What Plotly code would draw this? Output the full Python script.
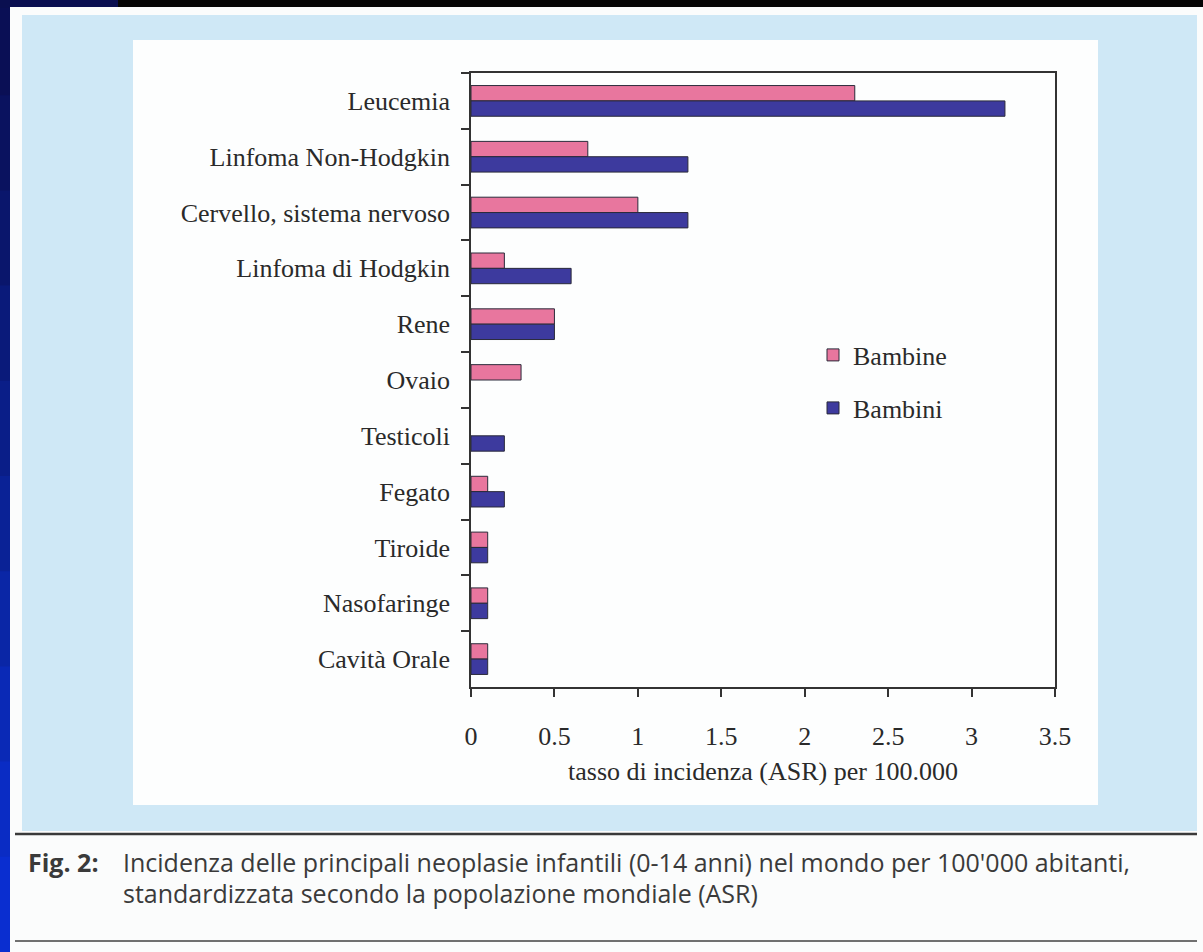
import plotly.graph_objects as go

# Tumour sites, top to bottom
categories = [
    "Leucemia",
    "Linfoma Non-Hodgkin",
    "Cervello, sistema nervoso",
    "Linfoma di Hodgkin",
    "Rene",
    "Ovaio",
    "Testicoli",
    "Fegato",
    "Tiroide",
    "Nasofaringe",
    "Cavità Orale",
]
# ASR per 100.000
bambine = [2.3, 0.7, 1.0, 0.2, 0.5, 0.3, None, 0.1, 0.1, 0.1, 0.1]
bambini = [3.2, 1.3, 1.3, 0.6, 0.5, None, 0.2, 0.2, 0.1, 0.1, 0.1]
x_ticks = [0, 0.5, 1, 1.5, 2, 2.5, 3, 3.5]

W, H = 1203, 952
L, R, T, B = 471, 1055, 73, 687


def px(x):
    return (x - L) / (R - L)


def py(y):
    return (B - y) / (B - T)


SERIF = "Liberation Serif"
SANS = "Open Sans"
INK = "#2a2a2a"
CAPTION = "#3a3a3a"
FS = 26

fig = go.Figure()
fig.add_trace(go.Bar(
    y=categories, x=bambine, orientation="h", name="Bambine",
    marker=dict(color="#e8769e", line=dict(color="#2a2a3a", width=1)),
    legend="legend", showlegend=True,
))
fig.add_trace(go.Bar(
    y=categories, x=bambini, orientation="h", name="Bambini",
    marker=dict(color="#3d3a9e", line=dict(color="#2a2a3a", width=1)),
    legend="legend2", showlegend=True,
))

shapes = []


def rect(x0, y0, x1, y1, color):
    shapes.append(dict(type="rect", xref="paper", yref="paper", layer="below",
                       x0=px(x0), x1=px(x1), y0=py(y1), y1=py(y0),
                       fillcolor=color, line=dict(width=0)))


def hline(x0, x1, y, color, width):
    shapes.append(dict(type="line", xref="paper", yref="paper", layer="below",
                       x0=px(x0), x1=px(x1), y0=py(y), y1=py(y),
                       line=dict(color=color, width=width)))


# slide frame: dark gradient down the left edge, black band on top
bands = ["#0a0f55", "#0a125f", "#0a166c", "#0a1a7a", "#0a1e88", "#0a2296",
         "#0a26a6", "#0a29b6", "#0a2cc4", "#0a2ed0"]
step = H / len(bands)
for i, c in enumerate(bands):
    rect(0, i * step, 12, (i + 1) * step + 1, c)
rect(0, 0, 118, 8, "#0a0f50")
rect(118, 0, W, 8, "#050505")
# printed page
rect(10, 7, W, H, "#fbfcfc")
rect(22, 15, 1197, 831, "#cfe8f6")
rect(133, 40, 1098, 805, "#fdfefe")
hline(15, 1197, 834, "#3a3a3a", 2.5)
hline(15, 1197, 941, "#707070", 2)

cap_font = dict(family=SANS, size=25, color=CAPTION)
annotations = [
    dict(text="<b>Fig. 2:</b>", x=px(26), y=py(862), xref="paper", yref="paper",
         xanchor="left", yanchor="middle", showarrow=False, font=cap_font),
    dict(text="Incidenza delle principali neoplasie infantili (0-14 anni) nel mondo per 100'000 abitanti,",
         x=px(121), y=py(862), xref="paper", yref="paper",
         xanchor="left", yanchor="middle", showarrow=False, font=cap_font),
    dict(text="standardizzata secondo la popolazione mondiale (ASR)",
         x=px(121), y=py(893), xref="paper", yref="paper",
         xanchor="left", yanchor="middle", showarrow=False, font=cap_font),
]

legend_style = dict(xanchor="left", yanchor="middle", bgcolor="rgba(0,0,0,0)",
                    font=dict(family=SERIF, size=FS, color=INK), itemwidth=30)

fig.update_layout(
    width=W, height=H,
    margin=dict(l=L, r=W - R, t=T, b=H - B, pad=0),
    paper_bgcolor="#0a1466",
    plot_bgcolor="rgba(0,0,0,0)",
    showlegend=True,
    barmode="group",
    bargap=0.45,
    bargroupgap=0,
    shapes=shapes,
    annotations=annotations,
    font=dict(family=SERIF, size=FS, color=INK),
    xaxis=dict(
        range=[0, 3.5], tickvals=x_ticks, ticks="outside", ticklen=8,
        tickcolor="#333", tickwidth=1.5, showline=True, linecolor="#333",
        linewidth=1.5, mirror=True, showgrid=False, zeroline=False,
        ticklabelstandoff=17,
        tickfont=dict(family=SERIF, size=FS, color=INK),
        title=dict(text="tasso di incidenza (ASR) per 100.000", standoff=12,
                   font=dict(family=SERIF, size=FS, color=INK)),
    ),
    yaxis=dict(
        type="category", categoryorder="array", categoryarray=categories,
        autorange="reversed", tickson="boundaries", ticks="outside",
        ticklen=8, tickcolor="#333", tickwidth=1.5, showline=True,
        linecolor="#333", linewidth=1.5, mirror=True, showgrid=False,
        ticklabelstandoff=14,
        tickfont=dict(family=SERIF, size=FS, color=INK),
    ),
    legend=dict(x=px(813), y=py(355), **legend_style),
    legend2=dict(x=px(813), y=py(408), **legend_style),
)

fig.write_html("out.html")
